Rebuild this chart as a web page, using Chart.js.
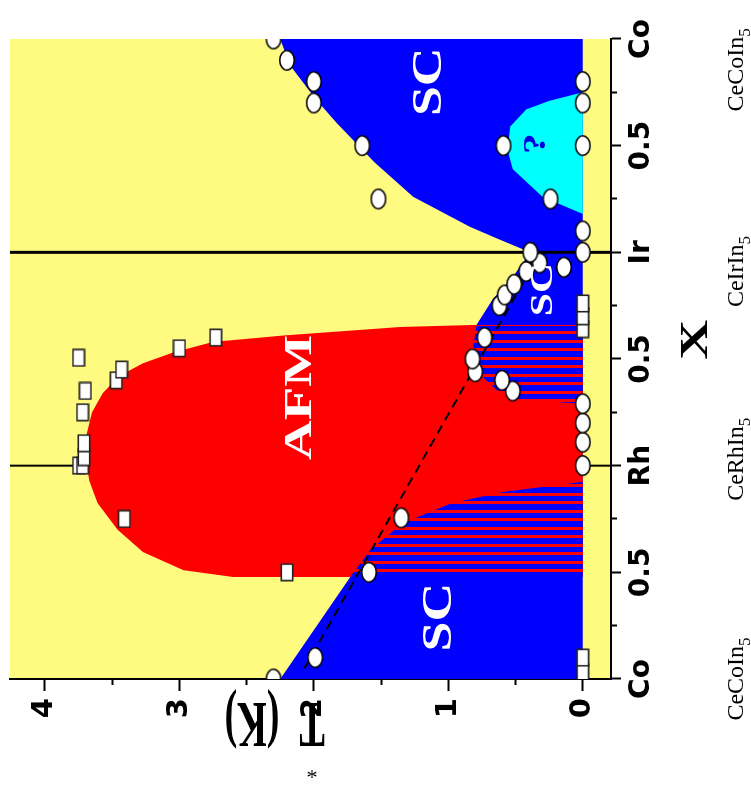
<!DOCTYPE html>
<html>
<head>
<meta charset="utf-8">
<title>CeCoIn5 – CeRhIn5 – CeIrIn5 phase diagram</title>
<script src="https://cdn.jsdelivr.net/npm/chart.js@4.4.1/dist/chart.umd.min.js"></script>
<style>
  html, body { margin: 0; padding: 0; background: #fff; overflow: hidden; width: 751px; height: 793px; }
  #frame { position: relative; width: 751px; height: 793px; overflow: hidden; }
  /* the diagram is laid out landscape and turned a quarter turn counter-clockwise */
  #phase { position: absolute; left: 0; top: 0; transform-origin: 0 0; transform: translate(0, 793px) rotate(-90deg); }
</style>
</head>
<body>
<div id="frame"><canvas id="phase" width="793" height="751"></canvas></div>
<script>
// ---- composition axis: 0 = CeCoIn5, 1 = CeRhIn5, 2 = CeIrIn5, 3 = CeCoIn5 ----
const xMajorTicks = [0, 0.5, 1, 1.5, 2, 2.5, 3];
const xTickLabels = ['Co', '0.5', 'Rh', '0.5', 'Ir', '0.5', 'Co'];
const xMinorTicks = [0.25, 0.75, 1.25, 1.75, 2.25, 2.75];

// ---- temperature axis (K) ----
const tMajorTicks = [0, 1, 2, 3, 4];
const tTickLabels = ['0', '1', '2', '3', '4'];
const tMinorTicks = [0.5, 1.5, 2.5, 3.5];

// end-member compounds along the composition axis
const compoundNames = ['CeCoIn', 'CeRhIn', 'CeIrIn', 'CeCoIn'];
const compoundAt = [0.0, 1.03, 1.91, 2.855];

// pure end-member boundaries
const rhLine = [{x: 1, y: -0.21}, {x: 1, y: 4.26}];
const irLine = [{x: 2, y: -0.21}, {x: 2, y: 4.26}];

// superconducting dome (upper edge)
const scEdge = [
  {x: 0, y: 2.25}, {x: 0.478, y: 1.73}, {x: 1.66, y: 0.79}, {x: 1.78, y: 0.67},
  {x: 1.885, y: 0.52}, {x: 2.0, y: 0.39}, {x: 2.06, y: 0.62}, {x: 2.12, y: 0.84},
  {x: 2.26, y: 1.26}, {x: 2.423, y: 1.55}, {x: 2.606, y: 1.83}, {x: 2.714, y: 1.98},
  {x: 2.878, y: 2.18}, {x: 3.0, y: 2.25}
];

// antiferromagnetic dome (upper edge)
const afmEdge = [
  {x: 0.478, y: 0}, {x: 0.478, y: 2.6}, {x: 0.51, y: 2.97}, {x: 0.595, y: 3.27},
  {x: 0.70, y: 3.46}, {x: 0.825, y: 3.61}, {x: 0.93, y: 3.67}, {x: 1.05, y: 3.70},
  {x: 1.15, y: 3.69}, {x: 1.25, y: 3.65}, {x: 1.34, y: 3.57}, {x: 1.42, y: 3.45},
  {x: 1.48, y: 3.27}, {x: 1.53, y: 3.05}, {x: 1.58, y: 2.75}, {x: 1.61, y: 2.23},
  {x: 1.65, y: 1.36}, {x: 1.66, y: 0.79}, {x: 1.66, y: 0}
];

// coexistence (AFM + SC) pockets
const mixedLow = [
  {x: 0.478, y: 0}, {x: 0.478, y: 1.73}, {x: 0.605, y: 1.58}, {x: 0.73, y: 1.34},
  {x: 0.825, y: 0.97}, {x: 0.877, y: 0.59}, {x: 0.924, y: 0}
];
const mixedHigh = [
  {x: 1.29, y: 0}, {x: 1.31, y: 0.47}, {x: 1.355, y: 0.64}, {x: 1.43, y: 0.77},
  {x: 1.54, y: 0.82}, {x: 1.655, y: 0.79}, {x: 1.655, y: 0}
];

// unresolved pocket on the Ir-Co side
const unknownEdge = [
  {x: 2.18, y: 0}, {x: 2.26, y: 0.30}, {x: 2.39, y: 0.52}, {x: 2.48, y: 0.56},
  {x: 2.59, y: 0.54}, {x: 2.67, y: 0.42}, {x: 2.71, y: 0.25}, {x: 2.75, y: 0}
];

// T* guide line
const guideLine = [{x: 0.05, y: 2.07}, {x: 1.93, y: 0.38}];

// transition points (circles)
const scPoints = [
  {x: 0.0, y: 2.30}, {x: 0.10, y: 1.99}, {x: 0.50, y: 1.59}, {x: 0.755, y: 1.35},
  {x: 1.0, y: 0}, {x: 1.11, y: 0}, {x: 1.20, y: 0}, {x: 1.29, y: 0},
  {x: 1.35, y: 0.52}, {x: 1.40, y: 0.60}, {x: 1.44, y: 0.80}, {x: 1.50, y: 0.82},
  {x: 1.60, y: 0.73}, {x: 1.75, y: 0.62}, {x: 1.80, y: 0.58}, {x: 1.85, y: 0.51},
  {x: 1.91, y: 0.42}, {x: 1.95, y: 0.32}, {x: 1.93, y: 0.14}, {x: 2.0, y: 0.39},
  {x: 2.0, y: 0}, {x: 2.10, y: 0}, {x: 2.25, y: 0.24}, {x: 2.25, y: 1.52},
  {x: 2.50, y: 1.64}, {x: 2.50, y: 0.59}, {x: 2.50, y: 0}, {x: 2.70, y: 2.0},
  {x: 2.70, y: 0}, {x: 2.80, y: 2.0}, {x: 2.80, y: 0}, {x: 2.90, y: 2.20},
  {x: 3.0, y: 2.30}
];

// Neel points (squares)
const afmPoints = [
  {x: 0.03, y: 0}, {x: 0.10, y: 0}, {x: 0.50, y: 2.20}, {x: 0.75, y: 3.41},
  {x: 1.0, y: 3.75}, {x: 1.0, y: 3.72}, {x: 1.04, y: 3.71}, {x: 1.105, y: 3.71},
  {x: 1.25, y: 3.72}, {x: 1.35, y: 3.70}, {x: 1.40, y: 3.47}, {x: 1.45, y: 3.43},
  {x: 1.505, y: 3.75}, {x: 1.55, y: 3.00}, {x: 1.60, y: 2.73},
  {x: 1.64, y: 0}, {x: 1.70, y: 0}, {x: 1.76, y: 0}
];

// ---------- marker sprites ----------
function ovalSprite() {
  const c = document.createElement('canvas');
  c.width = 23; c.height = 18;
  const g = c.getContext('2d');
  g.beginPath();
  g.ellipse(11.5, 9, 9.8, 7.3, 0, 0, Math.PI * 2);
  g.fillStyle = '#fff'; g.fill();
  g.lineWidth = 1.6; g.strokeStyle = '#000'; g.stroke();
  return c;
}
function boxSprite() {
  const c = document.createElement('canvas');
  c.width = 19; c.height = 14;
  const g = c.getContext('2d');
  g.fillStyle = '#fff'; g.fillRect(1, 1, 17, 12);
  g.lineWidth = 1.6; g.strokeStyle = '#222'; g.strokeRect(1.3, 1.3, 16.4, 11.4);
  return c;
}
function stripePattern() {
  const c = document.createElement('canvas');
  c.width = 17; c.height = 4;
  const g = c.getContext('2d');
  g.fillStyle = '#0000ff'; g.fillRect(0, 0, 17, 4);
  g.fillStyle = '#ff0000'; g.fillRect(0, 0, 3, 4); g.fillRect(8, 0, 3, 4);
  return document.getElementById('phase').getContext('2d').createPattern(c, 'repeat');
}

const YELLOW = '#fffb80';
const BLUE = '#0000ff';
const RED = '#ff0000';
const CYAN = '#00ffff';

function area(points, color, order) {
  return {
    data: points, showLine: true, fill: 'origin', backgroundColor: color,
    borderWidth: 0, borderColor: 'rgba(0,0,0,0)', pointRadius: 0, tension: 0, order
  };
}
function stroke(points, width, dash, order) {
  return {
    data: points, showLine: true, fill: false, borderColor: '#000', borderWidth: width,
    borderDash: dash, pointRadius: 0, tension: 0, order
  };
}
function markers(points, sprite, order) {
  return { data: points, showLine: false, fill: false, pointStyle: sprite, pointRadius: 9, order };
}

// ---------- drawing helpers for the text ----------
function put(ctx, text, x, y, o) {
  ctx.save();
  ctx.translate(x, y);
  if (o.rot) ctx.rotate(o.rot);
  ctx.scale(o.sx || 1, o.sy || 1);
  ctx.font = o.font;
  ctx.fillStyle = o.color || '#000';
  ctx.textAlign = o.align || 'center';
  ctx.textBaseline = 'alphabetic';
  ctx.fillText(text, 0, o.dy || 0);
  ctx.restore();
}

const backdrop = {
  id: 'backdrop',
  beforeDraw(chart) {
    const {ctx, chartArea: a} = chart;
    ctx.save();
    ctx.fillStyle = YELLOW;
    ctx.fillRect(a.left, a.top, a.right - a.left, a.bottom - a.top);
    ctx.restore();
  }
};

const captions = {
  id: 'captions',
  afterDraw(chart) {
    const {ctx, chartArea: a} = chart;
    const xs = chart.scales.x, ys = chart.scales.y;
    const px = v => xs.getPixelForValue(v);
    const py = v => ys.getPixelForValue(v);
    const serifB = s => 'bold ' + s + 'px "Liberation Serif", "Times New Roman", serif';
    const serif = s => s + 'px "Liberation Serif", "Times New Roman", serif';

    // phase names
    put(ctx, 'AFM', px(1.32), py(2.12), {font: serifB(41), color: '#fff', sx: 1.34, dy: 13.5});
    put(ctx, 'SC', px(0.29), py(1.085), {font: serifB(42), color: '#fff', sx: 1.28, dy: 14});
    put(ctx, 'SC', px(2.80), py(1.16), {font: serifB(42), color: '#fff', sx: 1.28, dy: 14});
    put(ctx, 'SC', px(1.825), py(0.31), {font: serifB(32), color: '#fff', sx: 1.3, dy: 10.5});
    put(ctx, '?', px(2.51), py(0.36), {font: serifB(32), color: '#0000e0', sx: 1.3, dy: 11});

    // composition axis title
    put(ctx, 'X', px(1.59), a.bottom + 82, {font: serifB(41), sx: 1.35, dy: 13.5});

    // end-member compounds
    compoundNames.forEach((name, i) => {
      ctx.save();
      ctx.font = serif(24);
      const w1 = ctx.measureText(name).width;
      ctx.font = serif(17);
      const w2 = ctx.measureText('5').width;
      ctx.restore();
      const x0 = px(compoundAt[i]) - (w1 + w2) / 2;
      const base = a.bottom + 132;
      put(ctx, name, x0, base, {font: serif(24), align: 'left'});
      put(ctx, '5', x0 + w1, base + 7, {font: serif(17), align: 'left'});
    });

    // temperature axis title, set vertically
    const rot = -Math.PI / 2;
    put(ctx, 'T', 68, 312, {font: serifB(38), rot, sy: 1.75, dy: 12.5});
    put(ctx, '(K)', 68, 252, {font: serifB(38), rot, sy: 1.75, dy: 12.5});
    put(ctx, '*', 18, 312, {font: serif(22), rot, dy: 11});
  }
};

const isIn = (arr, v) => arr.some(t => Math.abs(t - v) < 1e-9);

const ctx = document.getElementById('phase').getContext('2d');
const oval = ovalSprite();
const box = boxSprite();
const stripes = stripePattern();

new Chart(ctx, {
  type: 'line',
  data: {
    datasets: [
      stroke(rhLine, 2, [], 100),
      area(scEdge, BLUE, 90),
      area(afmEdge, RED, 80),
      area(mixedLow, stripes, 70),
      area(mixedHigh, stripes, 69),
      area(unknownEdge, CYAN, 60),
      stroke(irLine, 3, [], 50),
      stroke(guideLine, 2, [9, 6], 40),
      markers(afmPoints, box, 30),
      markers(scPoints, oval, 20)
    ]
  },
  options: {
    responsive: false,
    animation: false,
    devicePixelRatio: 1,
    events: [],
    layout: {padding: {top: 10, right: 39, left: 0, bottom: 0}},
    plugins: {legend: {display: false}, tooltip: {enabled: false}},
    scales: {
      x: {
        type: 'linear', position: 'bottom', min: 0, max: 3, z: 1,
        afterBuildTicks(s) {
          s.ticks = [...xMajorTicks, ...xMinorTicks].sort((p, q) => p - q).map(v => ({value: v}));
        },
        afterFit(s) { s.height = 140; s.paddingLeft = 0; s.paddingRight = 0; },
        ticks: {
          autoSkip: false, maxRotation: 0, minRotation: 0, padding: 4, color: '#000',
          font: {family: 'DejaVu Sans', weight: 'bold', size: 28},
          callback: v => { const i = xMajorTicks.findIndex(t => Math.abs(t - v) < 1e-9); return i >= 0 ? xTickLabels[i] : ''; }
        },
        grid: {
          drawOnChartArea: false, tickLength: 10, tickWidth: 2, tickColor: '#000',
          tickBorderDash: c => (c.tick && !isIn(xMajorTicks, c.tick.value)) ? [5, 100] : []
        },
        border: {display: true, color: '#000', width: 2}
      },
      y: {
        type: 'linear', position: 'left', min: -0.21, max: 4.26, z: 1,
        afterBuildTicks(s) {
          s.ticks = [...tMajorTicks, ...tMinorTicks].sort((p, q) => p - q).map(v => ({value: v}));
        },
        afterFit(s) { s.width = 114; s.paddingTop = 0; s.paddingBottom = 0; },
        ticks: {
          autoSkip: false, padding: 7, color: '#000',
          font: {family: 'DejaVu Sans', weight: 'bold', size: 29},
          callback: v => { const i = tMajorTicks.findIndex(t => Math.abs(t - v) < 1e-9); return i >= 0 ? tTickLabels[i] : ''; }
        },
        grid: {
          drawOnChartArea: false, tickLength: 12, tickWidth: 2, tickColor: '#000',
          tickBorderDash: c => (c.tick && !isIn(tMajorTicks, c.tick.value)) ? [0, 6, 6, 100] : []
        },
        border: {display: true, color: '#000', width: 2}
      }
    }
  },
  plugins: [backdrop, captions]
});
</script>
</body>
</html>
